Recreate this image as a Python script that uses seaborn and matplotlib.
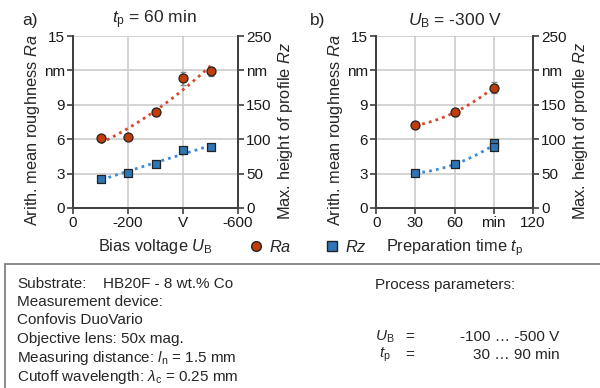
import numpy as np
import pandas as pd
import seaborn as sns
import matplotlib
matplotlib.use("Agg")
import matplotlib.pyplot as plt
from matplotlib.lines import Line2D
from matplotlib.patches import Rectangle

# ---- data ----
bias_v = [-100, -200, -300, -400, -500]
ra_bias = [6.07, 6.19, 8.34, 11.3, 11.94]
ra_bias_err = [0.25, 0.2, 0.35, 0.55, 0.38]
rz_bias = [42.6, 50.4, 63.5, 84.7, 88.0]

prep_t = [30, 60, 90]
ra_time = [7.2, 8.34, 10.5]
ra_time_err = [0.25, 0.3, 0.45]
rz_time_t = [30, 60, 90, 90]
rz_time = [50.9, 63.5, 95.0, 88.0]

ra_ticks = [0, 3, 6, 9, 12, 15]
ra_ticklabels = ["0", "3", "6", "9", "nm", "15"]
rz_ticks = [0, 50, 100, 150, 200, 250]
rz_ticklabels = ["0", "50", "100", "150", "nm", "250"]
bias_ticks = [0, -200, -400, -600]
bias_ticklabels = ["0", "-200", "V", "-600"]
time_ticks = [0, 30, 60, 90, 120]
time_ticklabels = ["0", "30", "60", "min", "120"]

RA_FILL = "#c23b0a"
RZ_FILL = "#2e75b6"
RA_LINE = "#d9462c"
RZ_LINE = "#3d8ad6"
SPINE = "#404040"
GRID = "#cccccc"

sns.set_theme(style="white")
plt.rcParams["font.family"] = ["Liberation Sans", "DejaVu Sans"]
plt.rcParams["mathtext.fontset"] = "custom"
plt.rcParams["mathtext.it"] = "Liberation Sans:italic"
plt.rcParams["mathtext.rm"] = "Liberation Sans"

fig = plt.figure(figsize=(6.0, 3.88), dpi=100)
TICK_FS = 11
LAB_FS = 11.8
TITLE_FS = 12.5
BOX_FS = 11


def style_axes(ax, ax2, xlim, xticks, xticklabels):
    ax.set_ylim(0, 15)
    ax2.set_ylim(0, 250)
    ax.set_xlim(*xlim)
    ax.set_xticks(xticks)
    ax.set_xticklabels(xticklabels, fontsize=TICK_FS)
    ax.set_yticks(ra_ticks)
    ax.set_yticklabels(ra_ticklabels, fontsize=TICK_FS)
    ax2.set_yticks(rz_ticks)
    ax2.set_yticklabels(rz_ticklabels, fontsize=TICK_FS)
    ax.grid(True, color=GRID, linewidth=1.2)
    ax.set_axisbelow(True)
    for a in (ax, ax2):
        a.spines["top"].set_visible(False)
        for s in ("left", "right", "bottom"):
            a.spines[s].set_color(SPINE)
            a.spines[s].set_linewidth(1.3)
        a.tick_params(axis="both", direction="out", length=4, width=1.2,
                      color=SPINE, pad=2, labelcolor="#1a1a1a")
    ax.tick_params(left=True, bottom=True)
    ax2.tick_params(right=True)
    ax2.grid(False)
    ax.set_ylabel(r"Arith. mean roughness $Ra$", fontsize=LAB_FS, labelpad=1)
    ax2.set_ylabel(r"Max. height of profile $Rz$", fontsize=LAB_FS, labelpad=3)
    ax.yaxis.label.set_y(0.45)
    ax2.yaxis.label.set_y(0.45)


# ---------- panel a ----------
axa = fig.add_axes([0.1217, 0.464, 0.275, 0.443])
axa2 = axa.twinx()
dfa = pd.DataFrame({"U": bias_v, "Ra": ra_bias, "Rz": rz_bias})
sns.regplot(data=dfa, x="U", y="Ra", order=2, ci=None, scatter=False, ax=axa,
            line_kws=dict(color=RA_LINE, linestyle=(0, (1, 1.5)), linewidth=2.0))
axa.errorbar(bias_v, ra_bias, yerr=ra_bias_err, fmt="none", ecolor="#8a8a8a",
             elinewidth=1.2, capsize=2.5, capthick=1.0, zorder=3)
sns.scatterplot(data=dfa, x="U", y="Ra", ax=axa, marker="o", s=42, color=RA_FILL,
                edgecolor="#222222", linewidth=0.9, zorder=4)
sns.regplot(data=dfa, x="U", y="Rz", order=2, ci=None, scatter=False, ax=axa2,
            line_kws=dict(color=RZ_LINE, linestyle=(0, (1, 1.5)), linewidth=2.0))
sns.scatterplot(data=dfa, x="U", y="Rz", ax=axa2, marker="s", s=40, color=RZ_FILL,
                edgecolor="#222222", linewidth=0.9, zorder=4)
style_axes(axa, axa2, (0, -600), bias_ticks, bias_ticklabels)
axa.set_xlabel(r"Bias voltage $U_{\mathrm{B}}$", fontsize=LAB_FS, labelpad=5)

# ---------- panel b ----------
axb = fig.add_axes([0.627, 0.464, 0.261, 0.443])
axb2 = axb.twinx()
dfb = pd.DataFrame({"t": prep_t, "Ra": ra_time})
dfb2 = pd.DataFrame({"t": rz_time_t, "Rz": rz_time})
sns.regplot(data=dfb, x="t", y="Ra", order=2, ci=None, scatter=False, ax=axb,
            line_kws=dict(color=RA_LINE, linestyle=(0, (1, 1.5)), linewidth=2.0))
axb.errorbar(prep_t, ra_time, yerr=ra_time_err, fmt="none", ecolor="#8a8a8a",
             elinewidth=1.2, capsize=2.5, capthick=1.0, zorder=3)
sns.scatterplot(data=dfb, x="t", y="Ra", ax=axb, marker="o", s=42, color=RA_FILL,
                edgecolor="#222222", linewidth=0.9, zorder=4)
sns.regplot(data=dfb2, x="t", y="Rz", order=2, ci=None, scatter=False, ax=axb2,
            line_kws=dict(color=RZ_LINE, linestyle=(0, (1, 1.5)), linewidth=2.0))
sns.scatterplot(data=dfb2, x="t", y="Rz", ax=axb2, marker="s", s=40, color=RZ_FILL,
                edgecolor="#222222", linewidth=0.9, zorder=4)
style_axes(axb, axb2, (0, 120), time_ticks, time_ticklabels)
axb.set_xlabel(r"Preparation time $t_{\mathrm{p}}$", fontsize=LAB_FS, labelpad=5)

for a in (axa, axa2, axb, axb2):
    if a.get_legend() is not None:
        a.get_legend().remove()

# titles
fig.text(0.05, 0.948, "a)", fontsize=TITLE_FS, ha="center", va="center")
fig.text(0.258, 0.948, r"$t_{\mathrm{p}}$ = 60 min", fontsize=TITLE_FS, ha="center", va="center")
fig.text(0.53, 0.948, "b)", fontsize=TITLE_FS, ha="center", va="center")
fig.text(0.758, 0.948, r"$U_{\mathrm{B}}$ = -300 V", fontsize=TITLE_FS, ha="center", va="center")

# legend
handles = [Line2D([], [], marker="o", linestyle="none", markersize=7,
                  markerfacecolor=RA_FILL, markeredgecolor="#222222", label=r"$Ra$"),
           Line2D([], [], marker="s", linestyle="none", markersize=6.5,
                  markerfacecolor=RZ_FILL, markeredgecolor="#222222", label=r"$Rz$")]
fig.legend(handles=handles, loc="center", bbox_to_anchor=(0.512, 0.363), ncol=2,
           frameon=False, fontsize=LAB_FS, handletextpad=0.3, columnspacing=2.0,
           handlelength=1.0)

# bottom info box
fig.patches.append(Rectangle((0.008, -0.05), 1.2, 0.37, transform=fig.transFigure,
                             fill=False, edgecolor="#808080", linewidth=1.3))
left_lines = [
    "Substrate:",
    "Measurement device:",
    "Confovis DuoVario",
    "Objective lens: 50x mag.",
    r"Measuring distance: $l_{\mathrm{n}}$ = 1.5 mm",
    r"Cutoff wavelength: $\lambda_{\mathrm{c}}$ = 0.25 mm",
]
ys = [284.5, 302, 320.5, 339, 358, 377]
for txt, y in zip(left_lines, ys):
    fig.text(0.029, 1 - y / 388, txt, fontsize=BOX_FS, ha="left", va="center")
fig.text(0.172, 1 - 284.5 / 388, "HB20F - 8 wt.% Co", fontsize=BOX_FS, ha="left", va="center")
fig.text(0.625, 1 - 284.5 / 388, "Process parameters:", fontsize=BOX_FS, ha="left", va="center")
fig.text(0.625, 1 - 337 / 388, r"$U_{\mathrm{B}}$", fontsize=BOX_FS, ha="left", va="center")
fig.text(0.675, 1 - 337 / 388, "=", fontsize=BOX_FS, ha="left", va="center")
fig.text(0.932, 1 - 337 / 388, "-100 \u2026 -500 V", fontsize=BOX_FS, ha="right", va="center")
fig.text(0.632, 1 - 355 / 388, r"$t_{\mathrm{p}}$", fontsize=BOX_FS, ha="left", va="center")
fig.text(0.675, 1 - 355 / 388, "=", fontsize=BOX_FS, ha="left", va="center")
fig.text(0.932, 1 - 355 / 388, "30 \u2026 90 min", fontsize=BOX_FS, ha="right", va="center")

fig.savefig("out.png", dpi=100)
